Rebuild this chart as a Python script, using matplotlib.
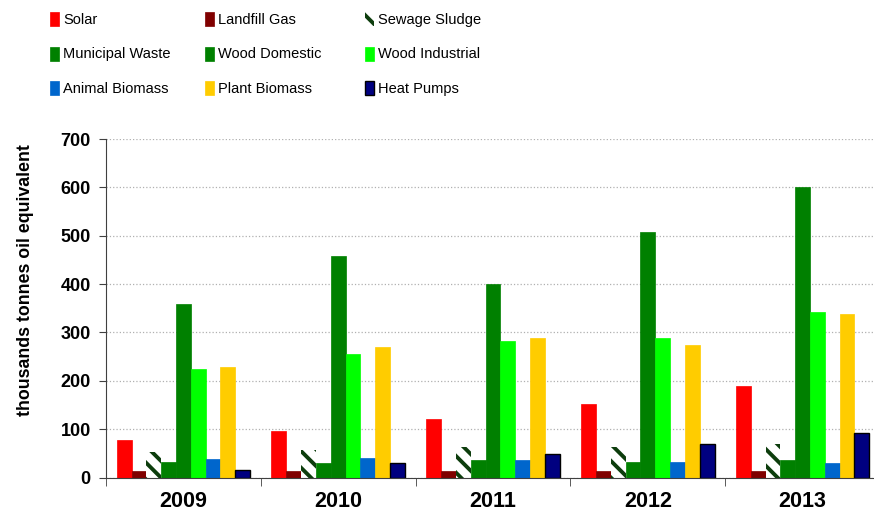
import matplotlib
matplotlib.use("Agg")
import matplotlib.pyplot as plt
import numpy as np

plt.rcParams['font.family'] = ['Liberation Sans', 'DejaVu Sans']
plt.rcParams['hatch.linewidth'] = 2.8

years = ['2009', '2010', '2011', '2012', '2013']
sources = ['Solar', 'Landfill Gas', 'Sewage Sludge', 'Municipal Waste', 'Wood Domestic',
           'Wood Industrial', 'Animal Biomass', 'Plant Biomass', 'Heat Pumps']

solar = [78, 97, 122, 152, 190]
landfill_gas = [14, 13, 14, 14, 14]
sewage_sludge = [52, 57, 63, 63, 70]
municipal_waste = [33, 30, 36, 33, 37]
wood_domestic = [358, 458, 401, 508, 600]
wood_industrial = [224, 255, 282, 289, 343]
animal_biomass = [39, 40, 36, 32, 30]
plant_biomass = [228, 270, 288, 275, 339]
heat_pumps = [15, 30, 48, 70, 92]

series = [solar, landfill_gas, sewage_sludge, municipal_waste, wood_domestic,
          wood_industrial, animal_biomass, plant_biomass, heat_pumps]
colors = ['#ff0000', '#800000', 'white', '#008000', '#008000',
          '#00ff00', '#0066cc', '#ffcc00', '#000080']

fig = plt.figure(figsize=(8.74, 5.18), dpi=100)
ax = fig.add_axes([106 / 874, 1 - 477.5 / 518, 774 / 874, 338.5 / 518])

x = np.arange(len(years))
w = 0.862 / 9
handles = []
for i, (name, vals) in enumerate(zip(sources, series)):
    pos = x - 0.862 / 2 + w * (i + 0.5)
    if name == 'Sewage Sludge':
        b = ax.bar(pos, vals, w, color='white', edgecolor='#0d3d0d', linewidth=0,
                   hatch='\\\\', label=name, zorder=2)
    elif name == 'Heat Pumps':
        b = ax.bar(pos, vals, w, color=colors[i], edgecolor='black', linewidth=1,
                   label=name, zorder=2)
    else:
        b = ax.bar(pos, vals, w, color=colors[i], edgecolor=colors[i], linewidth=0.5,
                   label=name, zorder=2)
    handles.append(b)

ax.set_xlim(-0.5, 4.5)
ax.set_ylim(0, 700)
ax.set_yticks(range(0, 701, 100))
ax.grid(axis='y', color='#b0b0b0', linestyle=':', linewidth=0.9, zorder=0)
ax.set_axisbelow(True)

ax.set_xticks(x)
ax.set_xticklabels(years, fontsize=15.5, fontweight='bold')
ax.set_xticks(np.arange(-0.5, 5, 1), minor=True)
ax.tick_params(axis='x', which='major', length=0, pad=10)
ax.tick_params(axis='x', which='minor', length=6, color='#404040', direction='out')
ax.tick_params(axis='y', length=5, color='#404040', direction='out', pad=6)
for lbl in ax.get_yticklabels():
    lbl.set_fontsize(13)
    lbl.set_fontweight('bold')

for s in ['top', 'right']:
    ax.spines[s].set_visible(False)
for s in ['left', 'bottom']:
    ax.spines[s].set_color('#404040')

ax.set_ylabel('thousands tonnes oil equivalent', fontsize=12.8, fontweight='bold')
ax.yaxis.set_label_coords(-0.093, 0.583)

# legend laid out row by row, one legend per column
col_x = [50, 205, 365]
for c in range(3):
    hs = [handles[c], handles[c + 3], handles[c + 6]]
    labs = [sources[c], sources[c + 3], sources[c + 6]]
    fig.legend(hs, labs, loc='center left', bbox_to_anchor=(col_x[c] / 874, 1 - 54 / 518),
               frameon=False, ncol=1, borderpad=0, borderaxespad=0,
               handlelength=0.6, handleheight=1.1, handletextpad=0.3,
               labelspacing=1.32, prop={'size': 10.5})

fig.savefig('out.png', dpi=100)
